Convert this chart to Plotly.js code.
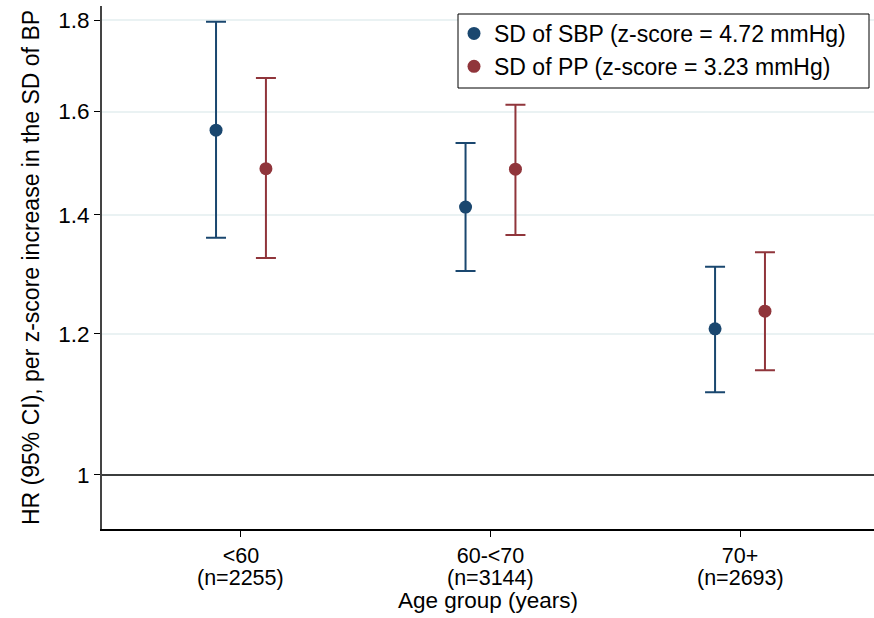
<!DOCTYPE html>
<html><head><meta charset="utf-8">
<script src="https://cdn.plot.ly/plotly-3.0.1.min.js"></script>
<style>body{margin:0;background:#fff}#c{width:874px;height:618px}</style>
</head><body><div id="c"></div>
<script>
const groups = [1, 2, 3];
const ageLabels = ["<60", "60-<70", "70+"];
const nLabels = ["(n=2255)", "(n=3144)", "(n=2693)"];
const sbpHR = [1.562, 1.414, 1.208];
const sbpLo = [1.359, 1.302, 1.113];
const sbpHi = [1.797, 1.536, 1.309];
const ppHR = [1.486, 1.485, 1.236];
const ppLo = [1.324, 1.364, 1.145];
const ppHi = [1.671, 1.614, 1.334];
const offset = 0.1;

function trace(name, hr, lo, hi, dx, color) {
  return {
    type: 'scatter', mode: 'markers', name: name,
    x: groups.map(g => g + dx), y: hr,
    marker: {color: color, size: 13},
    error_y: {type: 'data', symmetric: false,
      array: hi.map((h, i) => h - hr[i]),
      arrayminus: lo.map((l, i) => hr[i] - l),
      color: color, thickness: 2, width: 10}
  };
}
const data = [
  trace('SD of SBP (z-score = 4.72 mmHg)', sbpHR, sbpLo, sbpHi, -offset, '#1a476f'),
  trace('SD of PP (z-score = 3.23 mmHg)', ppHR, ppLo, ppHi, offset, '#90353b')
];
const nAnnots = groups.map((g, i) => ({
  x: g, xref: 'x', y: 0, yref: 'paper', yanchor: 'middle', yshift: -49,
  text: nLabels[i], showarrow: false, font: {size: 21.5, color: '#000'}
}));
const layout = {
  width: 874, height: 618,
  margin: {l: 102, r: 0, t: 6, b: 89},
  paper_bgcolor: '#fff', plot_bgcolor: '#fff',
  font: {family: 'Liberation Sans, Arial, sans-serif', size: 21.5, color: '#000'},
  showlegend: true,
  legend: {x: (454 - 102) / 772, xanchor: 'left', y: 0.9885, yanchor: 'top',
    borderwidth: 0, bgcolor: 'rgba(0,0,0,0)',
    font: {size: 23}, itemwidth: 30, tracegroupgap: 0},
  xaxis: {range: [0.443, 3.537], tickvals: groups, ticktext: ageLabels,
    showgrid: false, zeroline: false, showline: true, linecolor: '#000', linewidth: 1.5,
    ticks: 'outside', ticklen: 6, tickcolor: '#000', tickwidth: 1,
    tickfont: {size: 21.5},
    title: {text: 'Age group (years)', standoff: 26, font: {size: 22.5}}},
  yaxis: {type: 'log', range: [Math.log10(0.9325), Math.log10(1.834)],
    tickvals: [1, 1.2, 1.4, 1.6, 1.8], ticktext: ['1', '1.2', '1.4', '1.6', '1.8'],
    showgrid: true, gridcolor: '#eaf2f3', gridwidth: 1.5, zeroline: false,
    showline: true, linecolor: '#444', linewidth: 2,
    ticks: 'outside', ticklen: 6, tickcolor: '#000', tickwidth: 1,
    tickfont: {size: 22.5},
    title: {text: 'HR (95% CI), per z-score increase in the SD of BP', standoff: 12, font: {size: 23}}},
  annotations: nAnnots,
  shapes: [
    {type: 'line', xref: 'paper', x0: 0, x1: 1, yref: 'y', y0: 1, y1: 1,
      line: {color: '#000', width: 1.5}},
    {type: 'rect', xref: 'paper', yref: 'paper', layer: 'above',
      x0: (458 - 102) / 772, x1: (869 - 102) / 772,
      y0: 1 - (88 - 6) / 523, y1: 1 - (14 - 6) / 523,
      fillcolor: '#fff', line: {color: '#000', width: 1}}
  ]
};
Plotly.newPlot('c', data, layout, {displayModeBar: false});
</script></body></html>
